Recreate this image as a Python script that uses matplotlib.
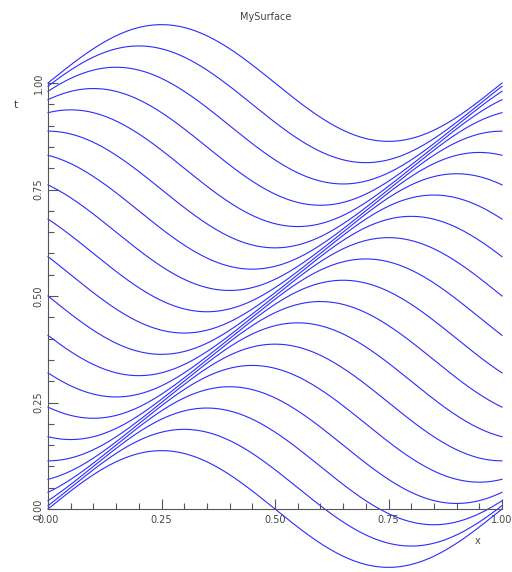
import numpy as np
import matplotlib
matplotlib.use('Agg')
import matplotlib.pyplot as plt
from matplotlib.ticker import MultipleLocator

# curve offsets (value of t where each curve crosses the diagonal) and wave amplitude
offsets = [0.0, 0.05, 0.10, 0.15, 0.20, 0.25, 0.30, 0.35, 0.40, 0.45, 0.50,
           0.55, 0.60, 0.65, 0.70, 0.75, 0.80, 0.85, 0.90, 0.95, 1.0]
amplitude = 0.137
x = np.linspace(0, 1, 201)

xticks = [0.0, 0.25, 0.5, 0.75, 1.0]
xticklabels = ['0.00', '0.25', '0.50', '0.75', '1.00']
yticks = [0.0, 0.25, 0.5, 0.75, 1.0]
yticklabels = ['0.00', '0.25', '0.50', '0.75', '1.00']

fig = plt.figure(figsize=(5.12, 5.72), dpi=100)
ax = fig.add_axes([48/512, 63/572, 454/512, 426/572])

for c in offsets:
    t = c + amplitude*np.sin(2*np.pi*(x - c))
    ax.plot(x, t, color='#2b2bff', lw=0.8, clip_on=False)

ax.set_xlim(0, 1)
ax.set_ylim(0, 1)
for s in ['top', 'right']:
    ax.spines[s].set_visible(False)
for s in ['left', 'bottom']:
    ax.spines[s].set_color('#555555')
    ax.spines[s].set_linewidth(0.8)

ax.set_xticks(xticks)
ax.set_xticklabels(xticklabels)
ax.set_yticks(yticks)
ax.set_yticklabels(yticklabels, rotation=90, va='center')
ax.xaxis.set_minor_locator(MultipleLocator(0.05))
ax.yaxis.set_minor_locator(MultipleLocator(0.05))
ax.tick_params(which='both', direction='in', colors='#555555', labelsize=7,
               labelcolor='#444444')
ax.tick_params(which='major', length=7, width=0.8)
ax.tick_params(which='minor', length=4, width=0.8)
ax.tick_params(axis='x', pad=4)
ax.tick_params(axis='y', pad=3)

fig.text(478/512, 1 - 541/572, 'x', fontsize=7, color='#444444', ha='center', va='center')
fig.text(16/512, 1 - 105/572, 't', fontsize=8, color='#444444', ha='center', va='center')
fig.text(266/512, 1 - 17/572, 'MySurface', fontsize=7, color='#444444', ha='center', va='center')

fig.savefig('out.png', dpi=100)
